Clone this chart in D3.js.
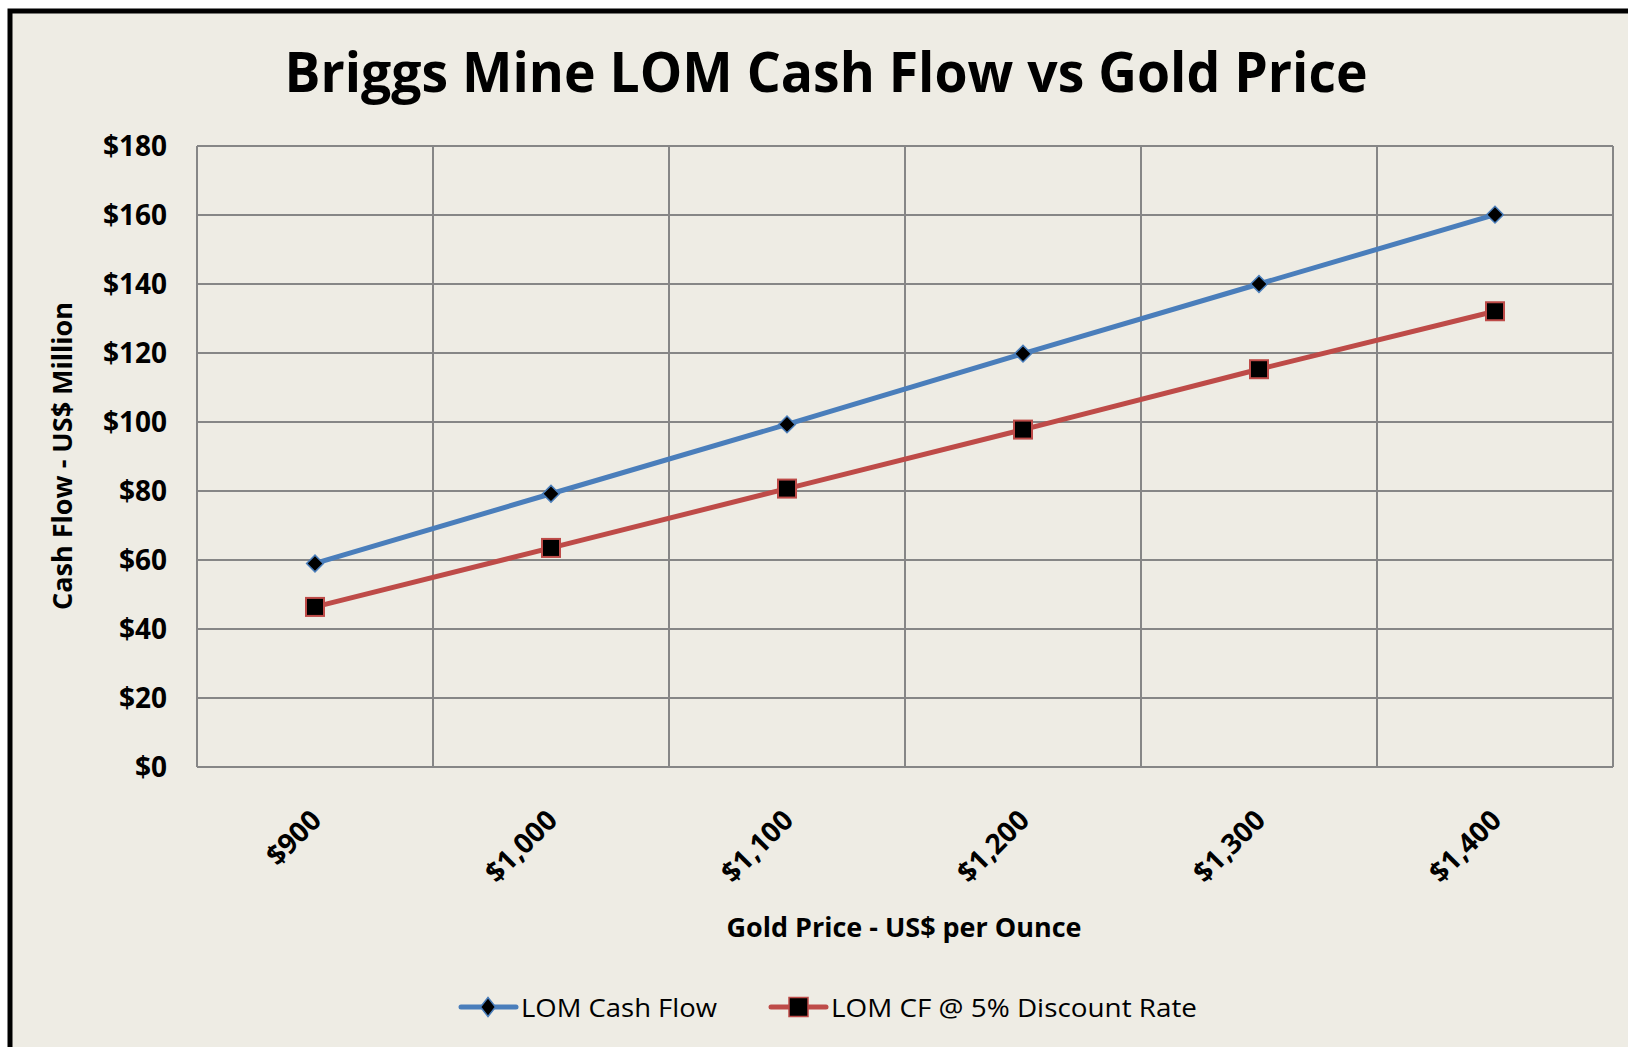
<!DOCTYPE html>
<html>
<head>
<meta charset="utf-8">
<script src="https://cdn.jsdelivr.net/npm/d3@7"></script>
<style>
  body { margin: 0; background: #fff; }
  text { font-family: "Open Sans", "Noto Sans", sans-serif; fill: #000; }
</style>
</head>
<body>
<svg id="chart"></svg>
<script>
// chart values
const goldPrices = ['$900', '$1,000', '$1,100', '$1,200', '$1,300', '$1,400'];
const lomCashFlow = [59, 79.2, 99.3, 119.8, 140, 160.1];
const lomDiscounted = [46.4, 63.5, 80.7, 97.8, 115.3, 132.1];
const yTicks = [0, 20, 40, 60, 80, 100, 120, 140, 160, 180];
const seriesNames = ['LOM Cash Flow', 'LOM CF @ 5% Discount Rate'];

const W = 1628, H = 1047;
const margin = { top: 146, right: 15, bottom: 280, left: 197 };
const plotW = W - margin.left - margin.right;
const plotH = H - margin.top - margin.bottom;

const blue = '#4a7ebb', red = '#be4b48', grid = '#868686';

const svg = d3.select('#chart').attr('width', W).attr('height', H);

// background + heavy border (right/bottom edge runs off the picture)
svg.append('rect')
  .attr('x', 10).attr('y', 11)
  .attr('width', W + 20).attr('height', H + 20)
  .attr('fill', '#eeece4')
  .attr('stroke', '#000').attr('stroke-width', 5);

const x = d3.scaleBand().domain(goldPrices).range([0, plotW]);
const y = d3.scaleLinear().domain([0, 180]).range([plotH, 0]);

const g = svg.append('g').attr('transform', `translate(${margin.left},${margin.top})`);

// horizontal grid
g.selectAll('.hgrid')
  .data(yTicks)
  .join('line')
  .attr('class', 'hgrid')
  .attr('x1', 0).attr('x2', plotW)
  .attr('y1', (d) => y(d)).attr('y2', (d) => y(d))
  .attr('stroke', grid).attr('stroke-width', 2);

// vertical grid at band edges
const edges = goldPrices.map((d) => x(d)).concat([plotW]);
g.selectAll('.vgrid')
  .data(edges)
  .join('line')
  .attr('class', 'vgrid')
  .attr('x1', (d) => d).attr('x2', (d) => d)
  .attr('y1', 0).attr('y2', plotH)
  .attr('stroke', grid).attr('stroke-width', 2);

// y axis labels
g.selectAll('.ylab')
  .data(yTicks)
  .join('text')
  .attr('class', 'ylab')
  .attr('x', -30)
  .attr('y', (d) => y(d) + 10)
  .attr('text-anchor', 'end')
  .attr('font-size', 28)
  .attr('font-weight', 700)
  .text((d) => '$' + d);

// x axis labels, rotated
g.selectAll('.xlab')
  .data(goldPrices)
  .join('text')
  .attr('class', 'xlab')
  .attr('text-anchor', 'end')
  .attr('font-size', 28)
  .attr('font-weight', 700)
  .attr('transform', (d) => `translate(${x(d) + x.bandwidth() / 2 + 8},${plotH + 55}) rotate(-45)`)
  .text((d) => d);

// axis titles
svg.append('text')
  .attr('x', 904).attr('y', 937)
  .attr('text-anchor', 'middle')
  .attr('font-size', 26).attr('font-weight', 700)
  .attr('textLength', 355).attr('lengthAdjust', 'spacingAndGlyphs')
  .text('Gold Price - US$ per Ounce');

svg.append('text')
  .attr('transform', 'translate(72,456) rotate(-90)')
  .attr('text-anchor', 'middle')
  .attr('font-size', 26).attr('font-weight', 700)
  .attr('textLength', 308).attr('lengthAdjust', 'spacingAndGlyphs')
  .text('Cash Flow - US$ Million');

// title
svg.append('text')
  .attr('x', 826).attr('y', 92)
  .attr('text-anchor', 'middle')
  .attr('font-size', 56).attr('font-weight', 700)
  .attr('textLength', 1083).attr('lengthAdjust', 'spacingAndGlyphs')
  .text('Briggs Mine LOM Cash Flow vs Gold Price');

// series lines
const line = d3.line()
  .x((d, i) => x(goldPrices[i]) + x.bandwidth() / 2)
  .y((d) => y(d));

g.append('path').datum(lomCashFlow)
  .attr('d', line).attr('fill', 'none')
  .attr('stroke', blue).attr('stroke-width', 5);

g.append('path').datum(lomDiscounted)
  .attr('d', line).attr('fill', 'none')
  .attr('stroke', red).attr('stroke-width', 5);

const diamond = d3.symbol().type(d3.symbolSquare).size(140);

g.selectAll('.dmark')
  .data(lomCashFlow)
  .join('path')
  .attr('class', 'dmark')
  .attr('d', diamond)
  .attr('transform', (d, i) => `translate(${x(goldPrices[i]) + x.bandwidth() / 2},${y(d)}) rotate(45)`)
  .attr('fill', '#000').attr('stroke', blue).attr('stroke-width', 1.5);

g.selectAll('.smark')
  .data(lomDiscounted)
  .join('rect')
  .attr('class', 'smark')
  .attr('x', (d, i) => x(goldPrices[i]) + x.bandwidth() / 2 - 9)
  .attr('y', (d) => y(d) - 9)
  .attr('width', 18).attr('height', 18)
  .attr('fill', '#000').attr('stroke', red).attr('stroke-width', 2);

// legend
const legend = svg.append('g');
const ly = 1007;

legend.append('line')
  .attr('x1', 461).attr('x2', 516).attr('y1', ly).attr('y2', ly)
  .attr('stroke', blue).attr('stroke-width', 5).attr('stroke-linecap', 'round');
legend.append('path')
  .attr('d', 'M0,-9.5 L7.5,0 L0,9.5 L-7.5,0 Z')
  .attr('transform', `translate(488,${ly})`)
  .attr('fill', '#000').attr('stroke', blue).attr('stroke-width', 1.5);
legend.append('text')
  .attr('x', 521).attr('y', 1017)
  .attr('font-size', 26)
  .attr('textLength', 196).attr('lengthAdjust', 'spacingAndGlyphs')
  .text(seriesNames[0]);

legend.append('line')
  .attr('x1', 771).attr('x2', 826).attr('y1', ly).attr('y2', ly)
  .attr('stroke', red).attr('stroke-width', 5).attr('stroke-linecap', 'round');
legend.append('rect')
  .attr('x', 789).attr('y', ly - 9.5)
  .attr('width', 19).attr('height', 19)
  .attr('fill', '#000').attr('stroke', red).attr('stroke-width', 1.5);
legend.append('text')
  .attr('x', 831).attr('y', 1017)
  .attr('font-size', 26)
  .attr('textLength', 366).attr('lengthAdjust', 'spacingAndGlyphs')
  .text(seriesNames[1]);
</script>
</body>
</html>
